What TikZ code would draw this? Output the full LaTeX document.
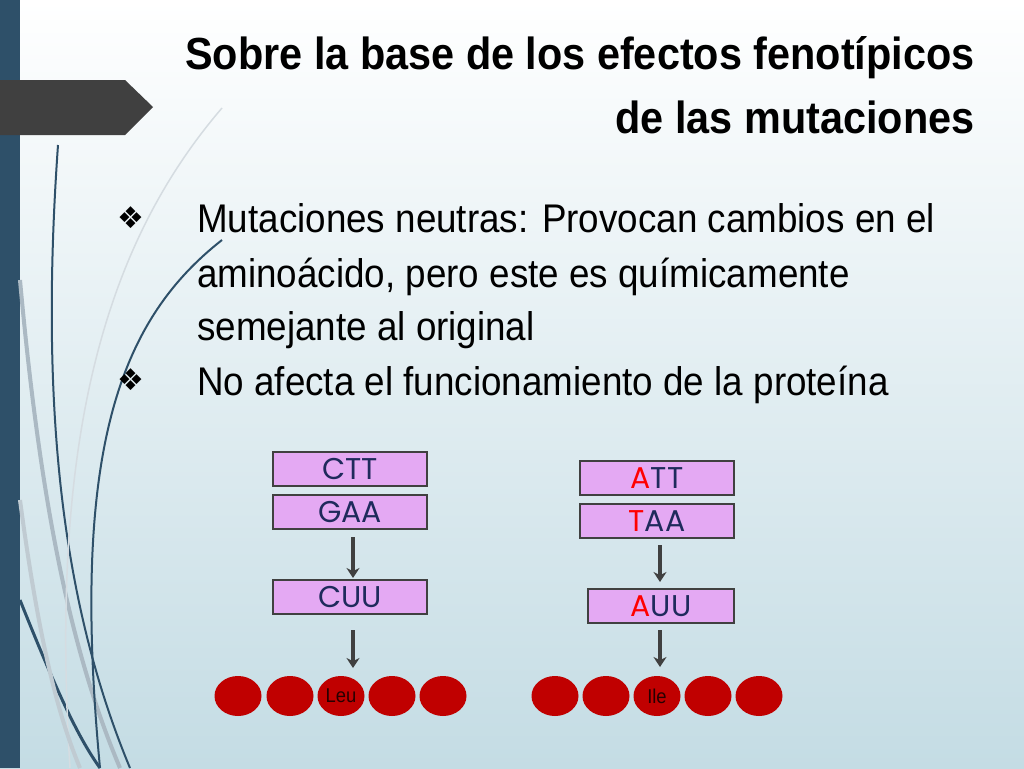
\documentclass[tikz,border=0pt]{standalone}
\usetikzlibrary{arrows.meta,shapes.geometric}
\usepackage{fontspec}
\setmainfont{Liberation Sans}[FakeStretch=0.92]
\newfontfamily\boxfont{Poppins}
\newfontfamily\symfont{DejaVu Sans}
\definecolor{bgtop}{HTML}{FFFFFF}
\definecolor{bgbot}{HTML}{C4DCE4}
\definecolor{barblue}{HTML}{2E5069}
\definecolor{boxfill}{HTML}{E4A9F3}
\definecolor{navy}{HTML}{1F2A5C}
\definecolor{bead}{HTML}{C00000}
\begin{document}
\begin{tikzpicture}[x=1pt,y=-1pt,
  codon/.style={draw=black!75,line width=2pt,fill=boxfill,minimum width=154pt,minimum height=34pt,inner sep=0pt,font=\boxfont\fontsize{30}{30}\selectfont,text=navy},
  bead/.style={ellipse,fill=bead,minimum width=47pt,minimum height=40pt,inner sep=0pt,font=\fontsize{20}{20}\selectfont,text=black!80!bead},
  arr/.style={draw=black!75,line width=4pt,-{Stealth[length=10pt,width=13pt]}},
  curve/.style={draw=barblue,line width=3pt}]
\useasboundingbox (0,0) rectangle (1024,768);
\shade[top color=bgtop,bottom color=bgbot] (0,0) rectangle (1024,768);
\fill[barblue] (0,0) rectangle (20,768);
% curves
\draw[curve,line width=2pt] (58,145) .. controls (40,400) and (60,600) .. (130,768);
\draw[curve] (20,600) .. controls (60,700) and (80,740) .. (100,768);
\draw[curve,draw=barblue!40,line width=4pt] (20,280) .. controls (40,500) and (70,650) .. (120,768);
\draw[curve,draw=barblue!20,line width=1.5pt] (222,108) .. controls (100,250) and (50,450) .. (70,768);
\draw[curve,line width=2pt] (222,240) .. controls (120,320) and (70,450) .. (100,768);
\draw[curve,draw=barblue!30,line width=4pt] (20,500) .. controls (40,650) and (60,720) .. (80,768);
\fill[black!75] (0,80) -- (125,80) -- (153,107) -- (125,135) -- (0,135) -- cycle;
% title
\node[anchor=base east,font=\bfseries\fontsize{45}{45}\selectfont] (t1) at (978,70) {Sobre la base de los efectos fenotípicos};
\node[anchor=base east,font=\bfseries\fontsize{45}{45}\selectfont] (t2) at (978,133) {de las mutaciones};
% bullets
\node[anchor=base west,font=\symfont\fontsize{30}{30}\selectfont] (b1) at (114,228) {❖};
\node[anchor=base west,font=\symfont\fontsize{30}{30}\selectfont] (b2) at (114,390) {❖};
\node[anchor=base west,inner sep=0pt,font=\fontsize{40}{40}\selectfont] (l1) at (197,232) {Mutaciones neutras: Provocan cambios en el};
\node[anchor=base west,inner sep=0pt,font=\fontsize{40}{40}\selectfont] (l2) at (197,287) {aminoácido, pero este es químicamente};
\node[anchor=base west,inner sep=0pt,font=\fontsize{40}{40}\selectfont] (l3) at (197,340) {semejante al original};
\node[anchor=base west,inner sep=0pt,font=\fontsize{40}{40}\selectfont] (l4) at (197,395) {No afecta el funcionamiento de la proteína};
% left column
\node[codon] (ctt) at (350,469) {CTT};
\node[codon] (gaa) at (350,512) {GAA};
\node[codon] (cuu) at (350,597) {CUU};
\coordinate (la1) at (353,537); \coordinate (la2) at (353,578);
\coordinate (lb1) at (353,630); \coordinate (lb2) at (353,668);
\draw[arr] (la1) -- (la2);
\draw[arr] (lb1) -- (lb2);
\node[bead] (l1b) at (238,696) {};
\node[bead] (l2b) at (290,696) {};
\node[bead] (l3b) at (341,696) {Leu};
\node[bead] (l4b) at (392,696) {};
\node[bead] (l5b) at (443,696) {};
% right column
\node[codon] (att) at (657,478) {\textcolor{red}{A}TT};
\node[codon] (taa) at (657,521) {\textcolor{red}{T}AA};
\node[codon,minimum width=146pt] (auu) at (661,606) {\textcolor{red}{A}UU};
\coordinate (ra1) at (660,545); \coordinate (ra2) at (660,582);
\coordinate (rb1) at (660,630); \coordinate (rb2) at (660,667);
\draw[arr] (ra1) -- (ra2);
\draw[arr] (rb1) -- (rb2);
\node[bead] (r1b) at (555,696) {};
\node[bead] (r2b) at (606,696) {};
\node[bead] (r3b) at (657,696) {Ile};
\node[bead] (r4b) at (708,696) {};
\node[bead] (r5b) at (759,696) {};
\end{tikzpicture}
\end{document}
